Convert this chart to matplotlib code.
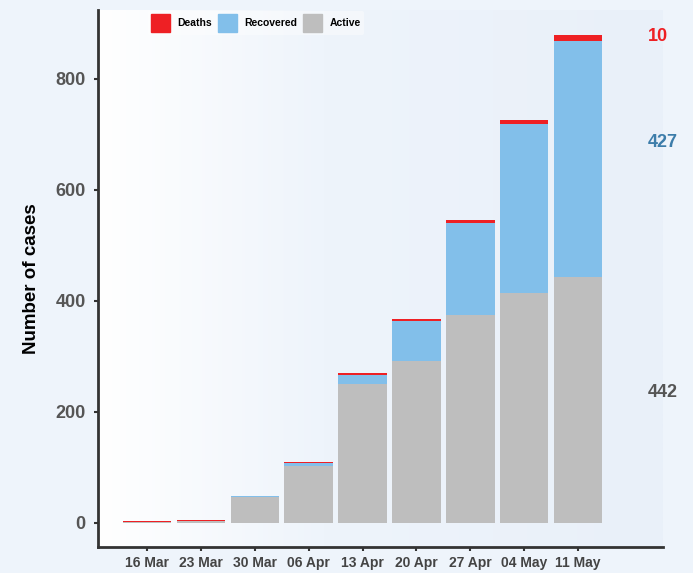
import matplotlib
matplotlib.use("Agg")
import matplotlib.pyplot as plt
import numpy as np
from matplotlib.patches import Patch
from matplotlib.colors import LinearSegmentedColormap

plt.rcParams['font.family'] = ['Liberation Sans', 'DejaVu Sans']

weeks = ["16 Mar", "23 Mar", "30 Mar", "06 Apr", "13 Apr", "20 Apr", "27 Apr", "04 May", "11 May"]
active = [2, 4, 46, 103, 250, 291, 374, 414, 442]
recovered = [0, 0, 2, 5, 16, 72, 166, 304, 427]
deaths = [1, 1, 1, 2, 4, 5, 5, 7, 10]
yticks = [0, 200, 400, 600, 800]

c_active = "#BEBEBE"
c_rec = "#82BFEA"
c_death = "#EE2024"

fig = plt.figure(figsize=(6.93, 5.73), dpi=100, facecolor="#EEF4FB")
ax = fig.add_axes([98/693, 1-546.7/573, (663-98)/693, (546.7-10)/573])

x = np.arange(len(weeks))
active_a = np.array(active)
rec_a = np.array(recovered)
death_a = np.array(deaths)

xlim = (-0.91, 9.575)
ylim = (-43.2, 924)

# gradient background (axes coordinates)
cmap = LinearSegmentedColormap.from_list("bg", [(0, "#FFFFFF"), (0.4, "#EEF4FB"), (1.0, "#E9F0F9")])
grad = np.linspace(0, 1, 256).reshape(1, -1)
ax.imshow(grad, extent=[0, 1, 0, 1], transform=ax.transAxes, aspect='auto', cmap=cmap, zorder=0)

w = 0.9
ax.bar(x, active_a, width=w, color=c_active, zorder=2, linewidth=0)
ax.bar(x, rec_a, width=w, bottom=active_a, color=c_rec, zorder=2, linewidth=0)
ax.bar(x, death_a, width=w, bottom=active_a + rec_a, color=c_death, zorder=2, linewidth=0)

# right-side labels for last bar
i = len(weeks) - 1
lx = i + 1.29
ax.text(lx, active_a[i] + rec_a[i] + death_a[i] - 2, str(deaths[i]), color=c_death,
        fontsize=13, fontweight='bold', ha='left', va='center')
ax.text(lx, active_a[i] + rec_a[i] * 0.57, str(recovered[i]), color="#3D7DAA",
        fontsize=13, fontweight='bold', ha='left', va='center')
ax.text(lx, active_a[i] * 0.53, str(active[i]), color="#555555",
        fontsize=13, fontweight='bold', ha='left', va='center')

ax.set_xticks(x)
ax.set_xticklabels(weeks, fontsize=10, fontweight='bold', color="#444444")
ax.set_yticks(yticks)
ax.set_yticklabels([str(v) for v in yticks], fontsize=13, fontweight='bold', color="#555555")
ax.tick_params(axis='both', length=3, width=1.5, color="#333333", pad=4)
ax.tick_params(axis='y', pad=6)

ax.set_xlim(*xlim)
ax.set_ylim(*ylim)

for s in ['top', 'right']:
    ax.spines[s].set_visible(False)
for s in ['left', 'bottom']:
    ax.spines[s].set_color("#333333")
    ax.spines[s].set_linewidth(2)

ax.set_ylabel("Number of cases", fontsize=13.5, fontweight='bold', color="black")
ax.yaxis.set_label_coords((40-98)/565, 0.5)

handles = [Patch(color=c_death, label="Deaths"), Patch(color=c_rec, label="Recovered"),
           Patch(color=c_active, label="Active")]
leg = fig.legend(handles=handles, loc='center', bbox_to_anchor=(256/693, 1-23/573), ncol=3,
                 frameon=True, fontsize=7.5, handlelength=1.8, handleheight=2.3,
                 handletextpad=0.7, columnspacing=0.6, borderpad=0.3)
leg.get_frame().set_facecolor("#FFFFFF")
leg.get_frame().set_alpha(0.4)
leg.get_frame().set_linewidth(0)
for t in leg.get_texts():
    t.set_fontweight('bold')

fig.savefig("out.png", dpi=100, facecolor=fig.get_facecolor())
